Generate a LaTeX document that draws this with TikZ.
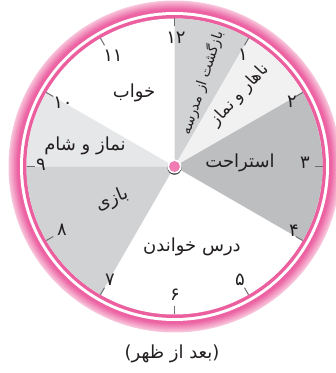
\documentclass[tikz,border=0pt]{standalone}
\usepackage{fontspec}
\newfontfamily\fa[Script=Arabic]{DejaVu Sans}
\TeXXeTstate=1
\usetikzlibrary{calc}
\definecolor{ringlight}{HTML}{F9C8DD}
\definecolor{ringdark}{HTML}{EC62A3}
\definecolor{ringline}{HTML}{EC5F9F}
\definecolor{dotpink}{HTML}{F07CB3}
\definecolor{secA}{HTML}{D1D2D4}
\definecolor{secB}{HTML}{F1F1F2}
\definecolor{secC}{HTML}{BDBEC0}
\definecolor{secD}{HTML}{E6E7E8}
\definecolor{tickgray}{HTML}{6D6E71}
\definecolor{txt}{HTML}{231F20}
\begin{document}
\begin{tikzpicture}[x=1pt,y=1pt,
  num/.style={font=\fa\fontsize{18}{18}\selectfont, inner sep=0pt, text=txt},
  lab/.style={font=\fa\fontsize{18}{18}\selectfont, inner sep=0pt, text=txt},
  mlab/.style={font=\fa\fontsize{16.5}{16.5}\selectfont, inner sep=0pt, text=txt},
  slab/.style={font=\fa\fontsize{14}{14}\selectfont, inner sep=0pt, text=txt},
  tickline/.style={draw=tickgray, line width=1pt}]
\useasboundingbox (0,0) rectangle (336,373);
\coordinate (C) at (174.5,206.5);
% outer ring
\foreach \i in {0,...,23}{
  \pgfmathsetmacro\p{min(100,\i/18*100)}
  \fill[ringdark!\p!ringlight] (C) circle ({166-\i*0.5});
}
\fill[white] (C) circle (154.5);
\fill[ringline] (C) circle (151.5);
\fill[white] (C) circle (148);
% sectors
\fill[secA] (C) -- ++(90:148) arc[start angle=90, end angle=60, radius=148] -- cycle;
\fill[secB] (C) -- ++(60:148) arc[start angle=60, end angle=30, radius=148] -- cycle;
\fill[secC] (C) -- ++(30:148) arc[start angle=30, end angle=-30, radius=148] -- cycle;
\fill[secA] (C) -- ++(-120:148) arc[start angle=-120, end angle=-180, radius=148] -- cycle;
\fill[secD] (C) -- ++(180:148) arc[start angle=180, end angle=150, radius=148] -- cycle;
% ticks
\foreach \h in {1,...,12}{
  \draw[tickline] ($(C)+(90-30*\h:140)$) -- ($(C)+(90-30*\h:148)$);
}
% numbers
\node[num] (n12) at (176,335) {۱۲};
\node[num] (n1) at (243,318) {۱};
\node[num] (n2) at (292,271) {۲};
\node[num] (n3) at (305,210) {۳};
\node[num] (n4) at (294,142) {۴};
\node[num] (n5) at (240,93) {۵};
\node[num] (n6) at (175,78) {۶};
\node[num] (n7) at (110,93) {۷};
\node[num] (n8) at (62,143) {۸};
\node[num] (n9) at (41,208) {۹};
\node[num] (n10) at (63,270) {۱۰};
\node[num] (n11) at (113,317) {۱۱};
% labels
\node[lab] (sleep) at (134,280) {\beginR خواب\endR};
\node[lab] (pray) at (85,227) {\beginR نماز و شام\endR};
\node[lab, rotate=22] (play) at (112,173) {\beginR بازی\endR};
\node[lab] (study) at (192,126) {\beginR درس خواندن\endR};
\node[lab] (rest) at (240,210) {\beginR استراحت\endR};
\node[mlab, rotate=47] (lunch) at (240,278) {\beginR ناهار و نماز\endR};
\node[slab, rotate=72] (back) at (202,290) {\beginR بازگشت از مدرسه\endR};
% center dot
\fill[black!75] ($(C)+(0,-1.3)$) circle (7);
\fill[white] (C) circle (7);
\fill[dotpink] (C) circle (5.5);
% caption
\node[lab] (cap) at (172,19) {\beginR(بعد از ظهر)\endR};
\end{tikzpicture}
\end{document}
